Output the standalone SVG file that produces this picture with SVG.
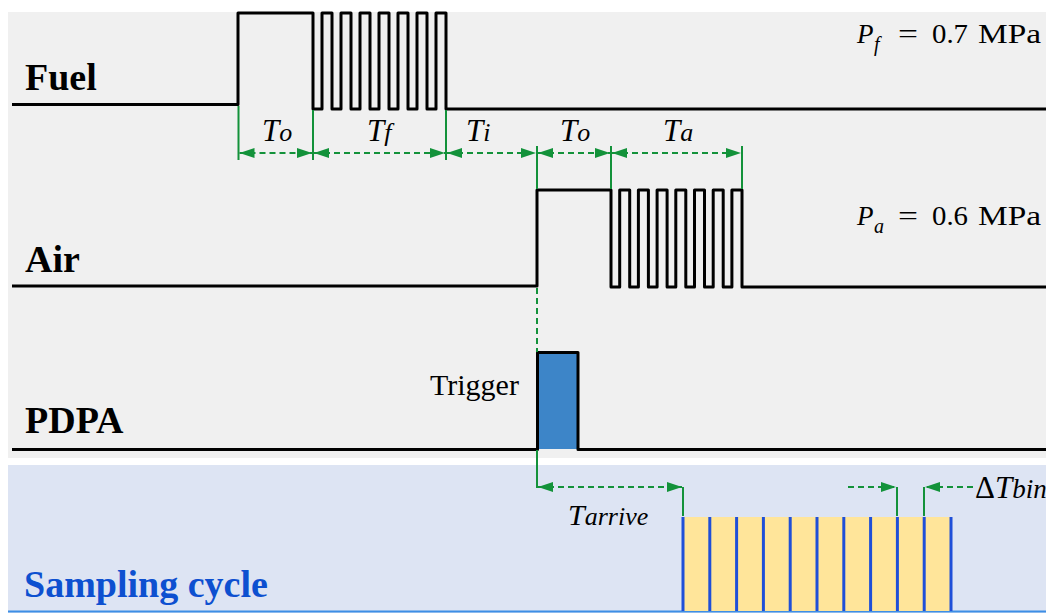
<svg xmlns="http://www.w3.org/2000/svg" width="1046" height="613" viewBox="0 0 1046 613">
<style>
.wave{fill:none;stroke:#000;stroke-width:3;stroke-linejoin:round}
.gv{stroke:#13923a;stroke-width:2;fill:none}
.gd{stroke:#13923a;stroke-width:2;fill:none;stroke-dasharray:6 4}
.ser{font-family:"Liberation Serif","Times New Roman",Times,"DejaVu Serif","Noto Serif",serif}
.lbl{font-weight:bold;font-size:38px;fill:#000}
.it{font-style:italic;fill:#000}
.rm{fill:#000}
.bar{stroke:#1f4fd8;stroke-width:3}
</style>
<defs>
<marker id="ah" markerUnits="userSpaceOnUse" markerWidth="16" markerHeight="11" refX="15" refY="5" orient="auto-start-reverse" viewBox="0 0 16 11">
<path d="M0,0 L15,5 L0,10 Z" fill="#13923a"/>
</marker>
</defs>
<g id="background">
<rect x="0" y="0" width="1046" height="613" fill="#ffffff"/>
<rect x="8" y="12" width="1038" height="446" fill="#f0f0f0"/>
<rect x="8" y="465" width="1038" height="148" fill="#dde4f3"/>
<line x1="8" y1="611.5" x2="1046" y2="611.5" stroke="#3d8ee6" stroke-width="2"/>
</g>
<g id="fuel">
<text class="ser lbl" x="25" y="90">Fuel</text>
<path class="wave" d="M12,104.5 H238 V13 H313 V109 H322 V13 H332 V109 H341 V13 H351 V109 H360 V13 H370 V109 H379 V13 H389 V109 H398 V13 H408 V109 H417 V13 H427 V109 H436 V13 H446 V109 H1046"/>
<text class="ser rm" font-size="27" y="43"><tspan x="857" font-style="italic">P</tspan><tspan x="874" dy="8" font-size="20" font-style="italic">f</tspan><tspan x="898" dy="-8" textLength="20" lengthAdjust="spacingAndGlyphs">=</tspan><tspan x="932" textLength="36" lengthAdjust="spacingAndGlyphs">0.7</tspan><tspan x="978" textLength="63" lengthAdjust="spacingAndGlyphs">MPa</tspan></text>
</g>
<g id="air">
<text class="ser lbl" x="25" y="272">Air</text>
<path class="wave" d="M12,286 H537 V190 H611 V287 H619.7 V190 H629.7 V287 H638.4 V190 H648.4 V287 H657.1 V190 H667.1 V287 H675.8 V190 H685.8 V287 H694.5 V190 H704.5 V287 H713.2 V190 H723.2 V287 H731.9 V190 H742 V287 H1046"/>
<text class="ser rm" font-size="27" y="225"><tspan x="857" font-style="italic">P</tspan><tspan x="874" dy="8" font-size="20" font-style="italic">a</tspan><tspan x="898" dy="-8" textLength="20" lengthAdjust="spacingAndGlyphs">=</tspan><tspan x="932" textLength="36" lengthAdjust="spacingAndGlyphs">0.6</tspan><tspan x="978" textLength="63" lengthAdjust="spacingAndGlyphs">MPa</tspan></text>
</g>
<g id="pdpa">
<text class="ser lbl" x="25" y="433">PDPA</text>
<rect x="537.5" y="352.5" width="40.5" height="96.5" fill="#3d85c8"/>
<path class="wave" d="M12,449.5 H537.5 V352.5 H578 V449.5 H1046"/>
<text class="ser rm" font-size="30" x="430" y="395">Trigger</text>
</g>
<g id="sampling">
<text class="ser" x="24" y="597" font-weight="bold" font-size="38" fill="#0d50d0">Sampling cycle</text>
<rect x="683" y="517" width="268" height="94" fill="#ffe59a"/>
<g class="bar">
<line x1="683" y1="517" x2="683" y2="611"/>
<line x1="709.8" y1="517" x2="709.8" y2="611"/>
<line x1="736.6" y1="517" x2="736.6" y2="611"/>
<line x1="763.4" y1="517" x2="763.4" y2="611"/>
<line x1="790.2" y1="517" x2="790.2" y2="611"/>
<line x1="817" y1="517" x2="817" y2="611"/>
<line x1="843.8" y1="517" x2="843.8" y2="611"/>
<line x1="870.6" y1="517" x2="870.6" y2="611"/>
<line x1="897.4" y1="517" x2="897.4" y2="611"/>
<line x1="924.2" y1="517" x2="924.2" y2="611"/>
<line x1="951" y1="517" x2="951" y2="611"/>
</g>
</g>
<g id="connectors">
<line class="gv" x1="238.5" y1="106" x2="238.5" y2="160"/>
<line class="gv" x1="313" y1="110" x2="313" y2="160"/>
<line class="gv" x1="446" y1="110" x2="446" y2="160"/>
<line class="gv" x1="537" y1="146" x2="537" y2="189"/>
<line class="gv" x1="611" y1="146" x2="611" y2="189"/>
<line class="gv" x1="742" y1="146" x2="742" y2="189"/>
<line class="gd" x1="239.5" y1="153" x2="312" y2="153" marker-start="url(#ah)" marker-end="url(#ah)"/>
<line class="gd" x1="314" y1="153" x2="445" y2="153" marker-start="url(#ah)" marker-end="url(#ah)"/>
<line class="gd" x1="447" y1="153" x2="536" y2="153" marker-start="url(#ah)" marker-end="url(#ah)"/>
<line class="gd" x1="538" y1="153" x2="610" y2="153" marker-start="url(#ah)" marker-end="url(#ah)"/>
<line class="gd" x1="612" y1="153" x2="741" y2="153" marker-start="url(#ah)" marker-end="url(#ah)"/>
<line class="gd" x1="537" y1="288" x2="537" y2="352"/>
<line class="gv" x1="537" y1="450" x2="537" y2="488"/>
<line class="gv" x1="683" y1="487" x2="683" y2="516"/>
<line class="gd" x1="538" y1="487" x2="682" y2="487" marker-start="url(#ah)" marker-end="url(#ah)"/>
<line class="gv" x1="897" y1="487" x2="897" y2="516"/>
<line class="gv" x1="924" y1="487" x2="924" y2="516"/>
<line class="gd" x1="848" y1="487" x2="896" y2="487" marker-end="url(#ah)"/>
<line class="gd" x1="973" y1="487" x2="925" y2="487" marker-end="url(#ah)"/>
</g>
<g id="labels">
<text class="ser it" x="262" y="141" font-size="31">T<tspan font-size="26">o</tspan></text>
<text class="ser it" x="367" y="141" font-size="31">T<tspan font-size="26">f</tspan></text>
<text class="ser it" x="466" y="141" font-size="31">T<tspan font-size="26">i</tspan></text>
<text class="ser it" x="560" y="141" font-size="31">T<tspan font-size="26">o</tspan></text>
<text class="ser it" x="663" y="141" font-size="31">T<tspan font-size="26">a</tspan></text>
<text class="ser it" x="568" y="525" font-size="30">T<tspan font-size="26">arrive</tspan></text>
<text class="ser rm" x="975" y="498" font-size="31">Δ<tspan font-style="italic">T</tspan><tspan font-style="italic" font-size="27">bin</tspan></text>
</g>
</svg>
